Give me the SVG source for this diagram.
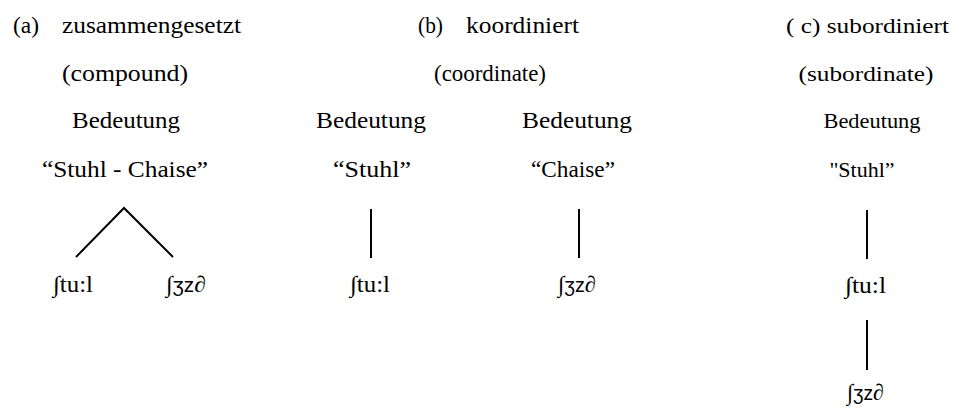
<svg xmlns="http://www.w3.org/2000/svg" width="959" height="408" viewBox="0 0 959 408">
<style>
text{font-family:"Liberation Serif","Times New Roman",serif;fill:#000;font-size:23px}
.c{text-anchor:middle}
.s{font-size:22px}
.sans{font-family:"Liberation Sans",Arial,sans-serif;font-size:20px}
.ln{stroke:#000;stroke-width:2;fill:none}
</style>
<rect width="959" height="408" fill="#fff"/>
<g id="connectors">
<polyline class="ln" points="76,257 124,208 173,257"/>
<line class="ln" x1="371" y1="209" x2="371" y2="258"/>
<line class="ln" x1="579" y1="209" x2="579" y2="258"/>
<line class="ln" x1="867" y1="210" x2="867" y2="259"/>
<line class="ln" x1="867" y1="320" x2="867" y2="370"/>
</g>
<g id="a-title">
<text x="13" y="33" textLength="26" lengthAdjust="spacingAndGlyphs">(a)</text>
<text x="62" y="33" textLength="179" lengthAdjust="spacingAndGlyphs">zusammengesetzt</text>
<text class="c" x="125" y="81" textLength="126" lengthAdjust="spacingAndGlyphs">(compound)</text>
</g>
<g id="a-meaning">
<text class="c" x="126" y="128" textLength="108" lengthAdjust="spacingAndGlyphs">Bedeutung</text>
<text class="c" x="125" y="177" textLength="166" lengthAdjust="spacingAndGlyphs">“Stuhl - Chaise”</text>
</g>
<g id="a-form1"><text x="53" y="292" textLength="40" lengthAdjust="spacingAndGlyphs">∫tu:l</text></g>
<g id="a-form2"><text x="166" y="292" textLength="40" lengthAdjust="spacingAndGlyphs">∫<tspan class="sans">ʒz</tspan>∂</text></g>
<g id="b-title">
<text x="418" y="33" textLength="25" lengthAdjust="spacingAndGlyphs">(b)</text>
<text x="466" y="33" textLength="113" lengthAdjust="spacingAndGlyphs">koordiniert</text>
<text class="c" x="490" y="81" textLength="112" lengthAdjust="spacingAndGlyphs">(coordinate)</text>
</g>
<g id="b-meaning1">
<text class="c" x="371" y="128" textLength="110" lengthAdjust="spacingAndGlyphs">Bedeutung</text>
<text class="c" x="372" y="177" textLength="78" lengthAdjust="spacingAndGlyphs">“Stuhl”</text>
</g>
<g id="b-meaning2">
<text class="c" x="577" y="128" textLength="110" lengthAdjust="spacingAndGlyphs">Bedeutung</text>
<text class="c" x="573" y="177" textLength="84" lengthAdjust="spacingAndGlyphs">“Chaise”</text>
</g>
<g id="b-form1"><text x="350" y="292" textLength="40" lengthAdjust="spacingAndGlyphs">∫tu:l</text></g>
<g id="b-form2"><text x="558" y="292" textLength="38" lengthAdjust="spacingAndGlyphs">∫<tspan class="sans">ʒz</tspan>∂</text></g>
<g id="c-title">
<text class="s" x="786" y="33" textLength="163" lengthAdjust="spacingAndGlyphs">( c) subordiniert</text>
<text class="c s" x="866" y="81" textLength="135" lengthAdjust="spacingAndGlyphs">(subordinate)</text>
</g>
<g id="c-meaning">
<text class="c s" x="872" y="128" textLength="97" lengthAdjust="spacingAndGlyphs">Bedeutung</text>
<text class="c s" x="862" y="177">"Stuhl”</text>
</g>
<g id="c-form1"><text x="845" y="293" textLength="41" lengthAdjust="spacingAndGlyphs">∫tu:l</text></g>
<g id="c-form2"><text x="847" y="400" textLength="37" lengthAdjust="spacingAndGlyphs">∫<tspan class="sans">ʒz</tspan>∂</text></g>
</svg>
